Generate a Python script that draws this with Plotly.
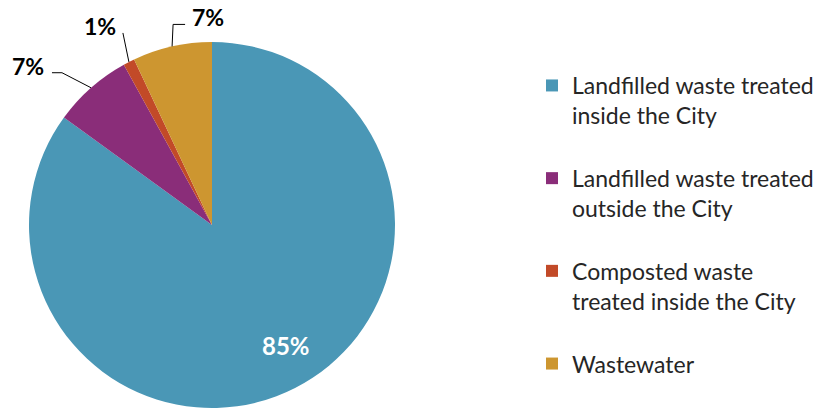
import math
import plotly.graph_objects as go

# Waste stream shares (percent)
categories = [
    "Landfilled waste treated<br>inside the City",
    "Landfilled waste treated<br>outside the City",
    "Composted waste<br>treated inside the City",
    "Wastewater",
]
shares = [85, 7, 1, 7]
colors = ["#4A97B6", "#8A2D79", "#C24A28", "#CD9630"]

W, H = 837, 410
CX, CY, R = 212, 225, 183  # pie centre and radius in pixels


def px(x):
    return x / W


def py(y):
    return 1 - y / H


total = sum(shares)
mids = []
acc = 0
for v in shares:
    mids.append((acc + v / 2) / total * 2 * math.pi)
    acc += v


def on_pie(theta, f=1.0):
    return CX + f * R * math.sin(theta), CY - f * R * math.cos(theta)


# legend entries padded with a blank line for spacing
legend_names = [c + "<br> " if i < len(categories) - 1 else c for i, c in enumerate(categories)]

fig = go.Figure(
    go.Pie(
        labels=legend_names,
        values=shares,
        sort=False,
        direction="clockwise",
        rotation=0,
        marker=dict(colors=colors, line=dict(width=0)),
        textinfo="none",
        hoverinfo="label+percent",
        domain=dict(x=[px(CX - R), px(CX + R)], y=[py(CY + R), py(CY - R)]),
    )
)

annotations = []
shapes = []

# label inside the large slice
lx, ly = on_pie(mids[0], 0.78)
annotations.append(dict(
    x=px(lx + 9), y=py(ly - 7), xref="paper", yref="paper", showarrow=False,
    text=f"<b>{shares[0]}%</b>", font=dict(family="Lato", size=24, color="white"),
    xanchor="center", yanchor="middle",
))

# leader-line labels for the small slices: polyline offsets from the rim point
leaders = {
    1: dict(path=[(-29, -15), (-39, -15)], anchor="right", dx=-6),
    2: dict(path=[(-6, -29)], anchor="right", dx=-5),
    3: dict(path=[(1, -22), (13, -22)], anchor="left", dx=5),
}
for i, spec in leaders.items():
    ex, ey = on_pie(mids[i])
    pts = [(ex, ey)] + [(ex + ox, ey + oy) for ox, oy in spec["path"]]
    d = "M " + " L ".join(f"{px(x)},{py(y)}" for x, y in pts)
    shapes.append(dict(type="path", path=d, xref="paper", yref="paper",
                       line=dict(color="black", width=1)))
    tx, ty = pts[-1]
    annotations.append(dict(
        x=px(tx + spec["dx"]), y=py(ty - 7), xref="paper", yref="paper", showarrow=False,
        text=f"<b>{shares[i]}%</b>", font=dict(family="Lato", size=23, color="black"),
        xanchor=spec["anchor"], yanchor="middle",
    ))

fig.update_layout(
    width=W, height=H,
    margin=dict(l=0, r=0, t=0, b=0),
    paper_bgcolor="white",
    plot_bgcolor="white",
    font=dict(family="Lato", color="#262626"),
    showlegend=True,
    legend=dict(
        x=px(532), y=py(64), xanchor="left", yanchor="top",
        font=dict(family="Lato", size=23, color="#262626"),
        valign="top",
        bgcolor="rgba(0,0,0,0)",
    ),
    annotations=annotations,
    shapes=shapes,
)

fig.write_html("out.html")
